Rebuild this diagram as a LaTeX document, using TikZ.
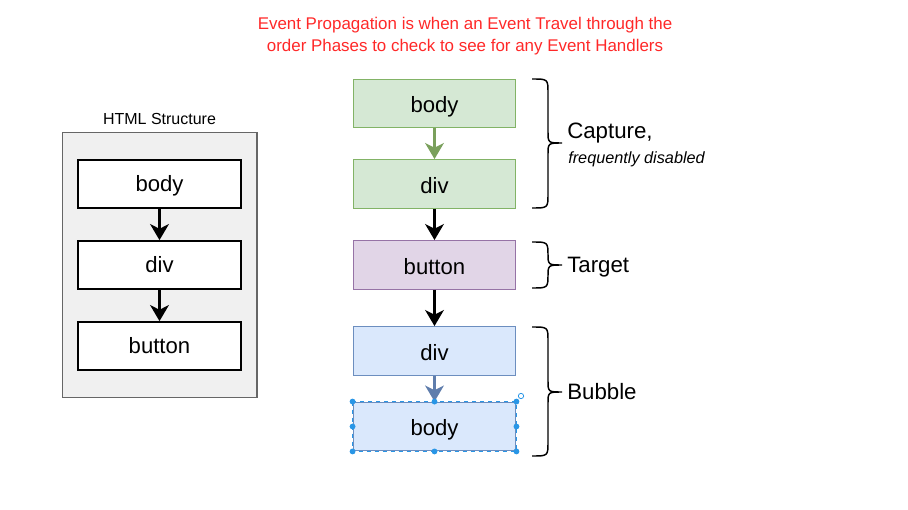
\documentclass[tikz,border=0pt]{standalone}
\usepackage{fontspec}
\setmainfont{Liberation Sans}
\usetikzlibrary{arrows.meta}

\definecolor{titlered}{RGB}{255,40,40}
\definecolor{panelgray}{RGB}{240,240,240}
\definecolor{panelline}{RGB}{102,102,102}
\definecolor{capfill}{HTML}{D5E8D4}
\definecolor{capline}{HTML}{82B366}
\definecolor{caparrow}{RGB}{122,160,92}
\definecolor{tgtfill}{HTML}{E1D5E7}
\definecolor{tgtline}{HTML}{9673A6}
\definecolor{bubfill}{HTML}{DAE8FC}
\definecolor{bubline}{HTML}{6C8EBF}
\definecolor{bubarrow}{RGB}{95,125,172}
\definecolor{handleblue}{RGB}{41,150,230}

\tikzset{
  htmlbox/.style={draw, fill=white, line width=1.3pt, minimum width=122pt, minimum height=36pt,
    text height=11.6pt, text depth=0pt, font=\fontsize{16.6}{19}\selectfont},
  phasebox/.style={draw, line width=0.9pt, minimum width=122pt, minimum height=36.5pt,
    text height=13.6pt, text depth=0pt, font=\fontsize{16.6}{19}\selectfont},
  flow/.style={-{Stealth[length=12pt, width=14pt, inset=3.5pt]}, line width=2.6pt},
  bracket/.style={line width=1.1pt, black},
  phaselabel/.style={anchor=west, inner sep=0pt, font=\fontsize{16.7}{19}\selectfont}
}

\begin{document}
\begin{tikzpicture}[x=0.75pt, y=-0.75pt]
\useasboundingbox (0,0) rectangle (908,510);

% title
\node[titlered, align=center, font=\fontsize{12.7}{16.5}\selectfont] (title) at (465,36)
  {Event Propagation is when an Event Travel through the\\order Phases to check to see for any Event Handlers};

% left: html structure
\node[draw=panelline, fill=panelgray, line width=1pt, minimum width=146pt, minimum height=199pt] (panel) at (159.5,265) {};
\node[font=\fontsize{12}{14}\selectfont] (paneltitle) at (159.5,119) {HTML Structure};

\node[htmlbox] (hbody) at (159.5,184) {body};
\node[htmlbox] (hdiv) at (159.5,265) {div};
\node[htmlbox] (hbutton) at (159.5,346) {button};

\draw[flow] (hbody) -- (hdiv);
\draw[flow] (hdiv) -- (hbutton);

% right: phases
\node[phasebox, fill=capfill, draw=capline] (cbody) at (434.5,103.5) {body};
\node[phasebox, fill=capfill, draw=capline] (cdiv) at (434.5,184) {div};
\node[phasebox, fill=tgtfill, draw=tgtline] (tbutton) at (434.5,265) {button};
\node[phasebox, fill=bubfill, draw=bubline] (bdiv) at (434.5,351) {div};
\node[phasebox, fill=bubfill, draw=bubline] (bbody) at (434.5,426.5) {body};

\draw[flow, caparrow] (cbody) -- (cdiv);
\draw[flow] (cdiv) -- (tbutton);
\draw[flow] (tbutton) -- (bdiv);
\draw[flow, bubarrow] (bdiv) -- (bbody);

% selection handles
\draw[handleblue, dashed, line width=0.4pt] (bbody.north west) rectangle (bbody.south east);
\foreach \a in {north west, north, north east, east, south east, south, south west, west}
  \fill[handleblue] (bbody.\a) circle[radius=2.2pt];
\draw[handleblue, line width=0.6pt] (521,396) circle[radius=2pt];

% brackets
\foreach \t/\m/\b in {79/143/208, 242/265/288, 327/392/456}
  \draw[bracket] (532,\t) .. controls (548,\t) .. (548,\t+14) -- (548,\m-12)
    .. controls (548,\m) .. (562,\m) .. controls (548,\m) .. (548,\m+12)
    -- (548,\b-14) .. controls (548,\b) .. (532,\b);

\node[phaselabel] (capture) at (567,133) {Capture,};
\node[phaselabel, font=\fontsize{12.2}{14}\selectfont\itshape] (capnote) at (568,159) {frequently disabled};
\node[phaselabel] (target) at (567,267) {Target};
\node[phaselabel] (bubble) at (567,392) {Bubble};

\end{tikzpicture}
\end{document}
